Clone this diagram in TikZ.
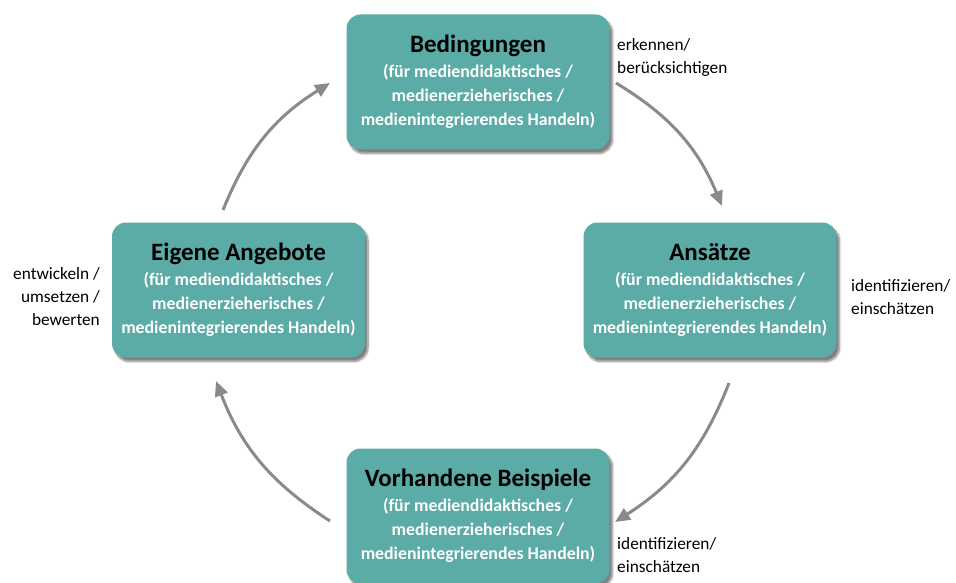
\documentclass[tikz,border=0pt]{standalone}
\usepackage{fontspec}
\setmainfont{Carlito}
\usetikzlibrary{arrows.meta,shadows.blur}
\definecolor{teal1}{HTML}{5BABA6}
\definecolor{arrowgray}{HTML}{8A8A8A}
\tikzset{
  box/.style={fill=teal1, rounded corners=14pt, minimum width=263pt, minimum height=135pt,
    inner sep=0pt, align=center, text=white, font=\fontsize{17.8}{24}\selectfont\bfseries,
    blur shadow={shadow xshift=3pt, shadow yshift=-4pt, shadow blur steps=8, shadow blur extra rounding=2pt, shadow opacity=50}},
  sidebox/.style={box, minimum width=253pt},
  flow/.style={draw=arrowgray, line width=3pt, -{Triangle[length=15pt,width=13pt]}, bend left=18},
  lbl/.style={inner sep=0pt, font=\fontsize{17.3}{23}\selectfont}
}
\newcommand{\boxtitle}[1]{{\fontsize{25}{28}\selectfont\color{black}#1}\\[1pt]}
\newcommand{\boxsub}{(für mediendidaktisches /\\ medienerzieherisches /\\ medienintegrierendes Handeln)}
\begin{document}
\begin{tikzpicture}[x=1pt,y=-1pt]
\useasboundingbox (0,0) rectangle (956,583);
\node[box] (top) at (478,82) {\boxtitle{Bedingungen}\boxsub};
\node[sidebox] (right) at (710,290) {\boxtitle{Ansätze}\boxsub};
\node[sidebox] (left) at (238.5,290) {\boxtitle{Eigene Angebote}\boxsub};
\node[box] (bottom) at (478,516) {\boxtitle{Vorhandene Beispiele}\boxsub};

\coordinate (a1s) at (616,83);  \coordinate (a1e) at (722,206);
\coordinate (a2s) at (729,383); \coordinate (a2e) at (615,522);
\coordinate (a3s) at (330,521); \coordinate (a3e) at (216,381);
\coordinate (a4s) at (223,210); \coordinate (a4e) at (330,83);
\draw[flow] (a1s) to (a1e);
\draw[flow] (a2s) to (a2e);
\draw[flow] (a3s) to (a3e);
\draw[flow] (a4s) to (a4e);

\node[lbl, anchor=north west, align=left] (l1) at (617,38) {erkennen/\\ berücksichtigen};
\node[lbl, anchor=north west, align=left] (l2) at (851,279) {identifizieren/\\ einschätzen};
\node[lbl, anchor=north west, align=left] (l3) at (617,537) {identifizieren/\\ einschätzen};
\node[lbl, anchor=north east, align=right] (l4) at (100,267) {entwickeln /\\ umsetzen /\\ bewerten};
\end{tikzpicture}
\end{document}
